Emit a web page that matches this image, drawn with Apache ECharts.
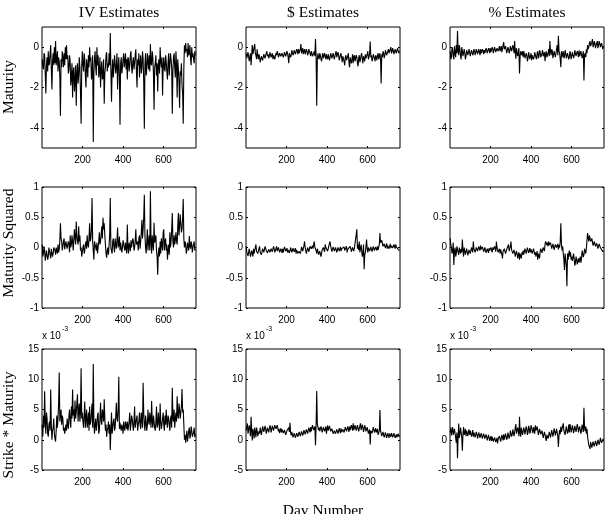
<!DOCTYPE html>
<html>
<head>
<meta charset="utf-8">
<script src="https://cdn.jsdelivr.net/npm/echarts@6/dist/echarts.min.js"></script>
<style>
html, body { margin: 0; padding: 0; background: #fff; }
#main { width: 609px; height: 514px; }
</style>
</head>
<body>
<div id="main"></div>
<script>
// one sample every 3rd day, day = 1 + 3*i
var days = [];
for (var d = 0; d < 253; d++) days.push(1 + 3 * d);

var colTitles = ['IV Estimates', '$ Estimates', '% Estimates'];
var rowTitles = ['Maturity', 'Maturity Squared', 'Strike * Maturity'];
var xTicks = [200, 400, 600];
var yTicksMat = [-4, -2, 0];
var yTicksSq = [-1, -0.5, 0, 0.5, 1];
var yTicksSM = [-5, 0, 5, 10, 15];

// IV estimates
var ivMat = [-0.6,-1.0, -1.1,-0.3, -0.4,-1.3, -2.3,-0.9, -0.5,-1.2, -0.2,-0.9, -0.8,-0.3, 0.1,-1.1, -2.1,-0.7, -0.3,-0.9,
    0.0,-0.8, 0.3,-0.9, -0.6,-0.2, -1.2,-0.5, -0.7,-1.5, -3.4,-0.6, -1.0,-0.2, -0.5,-1.0, -0.3,-0.9, 0.0,-0.6,
    0.1,-0.6, -0.4,-1.3, -1.1,-0.4, -0.7,-1.9, -1.5,-0.8, -2.5,-1.2, -1.0,-2.2, -1.6,-0.9, -2.9,-1.3, -0.8,-1.8,
    -1.4,-0.5, -1.0,-2.3, -3.8,-1.0, -0.2,-0.9, -1.2,-0.3, -0.6,-1.4, -2.0,-0.6, -0.9,-1.5, -0.4,-1.0, 0.0,-0.7,
    -0.5,-1.6, -1.3,-0.4, -4.7,-1.3, -0.6,-0.2, -1.0,-1.4, 0.0,-0.9, -0.4,-1.5, -1.2,-0.5, -2.0,-1.1, -0.7,-1.6,
    -1.5,-0.6, -2.8,-1.3, -1.0,-0.4, -0.25,-1.2, -0.8,-1.0, -0.3,-0.9, 0.7,-1.1, -2.7,-1.2, -0.6,-1.5, -1.0,-0.4,
    -0.4,-1.3, -0.9,-0.3, -2.1,-1.0, -0.5,-1.4, -3.85,-0.8, -0.5,-1.3, -1.0,-0.6, -0.3,-1.0, -0.7,-0.3, -1.1,-0.6,
    -1.6,-0.5, -0.6,-1.2, -0.9,-0.4, -0.2,-1.0, -1.3,-0.7, -0.5,-1.1, -0.8,-0.4, -0.1,-1.2, -2.0,-0.6, -0.9,-0.3,
    -1.5,-0.8, -0.4,-1.3, -1.0,-0.2, -0.6,-1.7, -4.05,-0.9, -0.3,-1.4, -1.1,-0.3, -0.7,-1.1, -0.4,-1.2, 0.15,-0.8,
    -0.9,-0.2, -0.5,-1.3, -3.1,-1.0, -0.8,-0.4, -1.4,-0.8, -2.2,-0.9, -0.6,-1.3, 0.0,-0.7, -1.0,-0.5, -2.4,-0.9,
    -0.5,-1.1, -1.2,-0.4, -0.7,-1.2, -1.6,-0.8, -0.3,-1.4, -0.9,-0.3, -0.6,-1.0, -3.3,-1.2, -0.5,-0.3, -1.0,-1.5,
    -0.2,-0.9, -2.5,-0.6, -1.1,-1.7, -3.0,-1.2, -1.4,-0.8, -1.9,-2.3, -3.8,-1.0, 0.1,-0.3, 0.2,-0.2, -0.1,-0.5,
    0.2,-0.4, -0.3,0.1, -0.6,-0.9, 0.0,-0.5, -0.3,-0.6, -0.8,-0.2, -0.4];
var ivSq = [0.05,-0.15, -0.1,0.02, -0.05,-0.22, -0.2,-0.05, -0.08,-0.2, -0.15,0.0, -0.02,-0.12, -0.18,-0.02, -0.05,-0.15, -0.1,0.0,
    0.0,-0.05, -0.12,0.0, -0.05,-0.1, 0.05,-0.08, -0.03,0.12, 0.4,0.15, 0.1,-0.05, 0.02,0.1, 0.15,-0.03, 0.0,0.1,
    0.12,-0.02, -0.05,0.1, 0.05,-0.08, 0.2,0.0, 0.05,0.2, 0.1,-0.05, -0.02,0.3, 0.15,0.05, 0.43,0.2, 0.1,0.05,
    0.35,0.1, 0.2,-0.05, 0.0,-0.15, -0.12,0.0, 0.05,-0.1, -0.05,0.05, 0.1,-0.02, 0.2,0.05, 0.0,0.15, 0.4,0.1,
    0.15,0.3, 0.82,0.1, -0.05,-0.2, 0.1,0.12, 0.0,-0.05, 0.08,-0.1, -0.08,0.1, 0.25,0.05, 0.1,0.22, 0.35,0.15,
    0.49,0.3, 0.4,0.2, 0.05,-0.1, -0.17,-0.05, 0.0,-0.12, 0.05,0.2, 0.82,0.0, -0.05,-0.1, 0.1,0.15, 0.0,-0.08,
    0.15,0.05, -0.02,0.12, 0.33,0.0, 0.05,0.18, -0.05,0.08, 0.1,-0.08, 0.0,0.12, 0.15,0.0, -0.05,0.08, 0.05,-0.1,
    0.38,0.0, -0.1,0.08, 0.05,-0.06, 0.12,0.0, -0.02,0.15, 0.1,-0.05, 0.0,0.12, 0.3,0.05, 0.02,0.1, -0.05,0.15,
    0.2,-0.02, 0.1,0.25, 0.46,0.15, 0.3,0.5, 0.87,0.2, 0.0,-0.1, 0.1,0.3, -0.05,0.1, 0.2,-0.05, 0.93,0.1,
    -0.1,0.2, 0.05,-0.05, 0.41,0.08, 0.1,0.2, -0.05,-0.15, -0.45,-0.1, 0.0,-0.15, 0.1,-0.1, 0.15,0.05, -0.05,0.25,
    0.3,-0.05, 0.1,0.15, -0.05,0.05, -0.2,-0.05, 0.05,-0.12, 0.25,0.0, 0.1,0.3, 0.57,0.1, 0.0,0.2, 0.05,0.12,
    0.25,0.1, 0.05,0.35, 0.57,0.2, 0.35,0.55, 0.4,0.25, 0.3,0.5, 0.8,0.15, 0.0,0.1, 0.05,-0.1, -0.05,0.08,
    0.05,-0.05, 0.19,0.02, -0.02,0.1, 0.05,-0.08, 0.0,0.05, 0.1,-0.05, -0.03];
var ivSM = [2.5,0.5, 4.0,2.0, 8.0,3.0, 1.0,4.5, 3.5,1.0, 0.5,2.5, 3.0,1.5, 8.3,2.5, 0.0,1.5, 2.0,3.5,
    1.0,0.2, -0.3,1.5, 4.0,2.0, 3.5,6.0, 11.1,3.0, 4.0,5.0, 2.5,4.0, 3.5,1.5, 2.0,1.0, 0.8,2.5,
    1.5,3.5, 2.5,1.8, 4.0,5.0, 3.0,2.0, 5.5,3.5, 8.3,4.0, 5.0,3.0, 6.5,3.5, 4.5,6.0, 7.5,3.0,
    5.0,6.0, 3.0,4.5, 11.8,3.5, 4.5,3.0, 2.0,4.0, 6.3,2.0, 3.5,5.0, 2.0,3.0, 4.5,1.5, 5.5,2.5,
    3.0,4.5, 6.0,2.0, 12.5,3.0, 1.0,2.5, 3.5,1.5, 2.5,4.0, 4.5,1.0, 1.5,3.5, 6.1,3.0, 2.5,5.0,
    4.5,3.0, 6.7,3.5, 1.5,2.5, 0.5,1.5, 2.0,3.0, 1.0,2.5, -1.7,1.5, 4.5,1.0, 2.0,3.0, 3.5,1.5,
    2.0,4.0, 6.1,3.5, 3.0,5.0, 10.4,1.8, 2.8,2.0, 1.5,2.5, 2.0,1.0, 3.0,2.0, 1.5,3.0, 2.5,1.8,
    3.0,1.5, 1.8,3.0, 4.5,1.5, 2.5,4.0, 3.5,2.5, 1.5,3.0, 5.5,2.0, 2.0,3.5, 4.0,1.5, 2.5,3.0,
    4.5,2.5, 1.8,4.5, 3.5,2.0, 9.4,4.5, 2.5,1.5, 4.0,3.0, 1.5,2.5, 5.0,3.0, 2.5,4.5, 3.5,2.0,
    6.4,3.0, 2.0,4.0, 3.0,2.0, 1.5,3.0, 5.5,2.0, 2.5,4.5, 3.0,1.5, 6.0,3.0, 1.8,2.5, 3.5,4.5,
    2.5,1.5, 4.0,2.5, 5.0,3.0, 2.0,4.0, 3.5,2.5, 1.5,3.5, 4.0,2.0, 8.6,3.5, 3.0,5.0, 2.0,3.5,
    4.5,3.0, 7.2,4.0, 3.5,6.0, 5.0,3.5, 4.5,5.5, 8.4,4.5, 5.0,2.5, 0.0,0.8, -0.5,0.5, 1.5,-0.3,
    0.5,1.5, 2.0,0.2, 0.8,2.2, 1.5,0.5, 0.3,1.2, 2.0,0.4, 1.0];

// $ estimates
var dolMat = [-0.3,-0.55, -0.6,-0.25, -0.2,-0.7, -0.5,-0.3, -0.9,-0.4, 0.1,-0.35, -0.2,0.0, 0.15,-0.3, -0.4,-0.6, -0.1,-0.4,
    -0.6,-0.35, -0.5,-0.75, -0.7,-0.45, -0.4,-0.65, -0.6,-0.35, -0.3,-0.55, -0.5,-0.3, -0.2,-0.45, -0.35,-0.55, -0.45,-0.25,
    -0.3,-0.5, -0.5,-0.3, -0.6,-0.4, -0.35,-0.6, -0.55,-0.3, -0.4,-0.2, -0.3,-0.5, -0.45,-0.3, -0.25,-0.45, -0.5,-0.3,
    -0.3,-0.5, -0.4,-0.25, -0.2,-0.45, -0.35,-0.2, -0.3,-0.5, -0.8,-0.3, -0.25,-0.5, -0.4,-0.15, -0.2,-0.4, -0.3,-0.15,
    -0.15,-0.35, -0.35,-0.1, -0.2,-0.35, -0.1,-0.3, -0.3,-0.1, 0.15,-0.3, -0.2,-0.05, -0.35,-0.2, -0.1,-0.35, -0.25,-0.1,
    -0.2,-0.4, -0.3,-0.1, -0.15,-0.3, -0.45,-0.2, -0.3,-0.45, -0.5,-0.3, -0.2,-0.45, 0.4,-0.5, -2.9,-0.6, -0.3,-0.5,
    -0.6,-0.3, -0.4,-0.6, -0.7,-0.45, -0.3,-0.55, -0.5,-0.3, -0.45,-0.6, -0.35,-0.5, -0.6,-0.35, -0.4,-0.65, -0.5,-0.3,
    -0.35,-0.55, -0.5,-0.3, -0.3,-0.6, -0.45,-0.3, -0.2,-0.5, -0.5,-0.25, -0.4,-0.65, -0.6,-0.4, -0.3,-0.55, -0.75,-0.45,
    -0.5,-0.7, -0.9,-0.5, -0.4,-0.65, -0.7,-0.45, -0.3,-0.75, -1.0,-0.5, -0.5,-0.8, -0.6,-0.35, -0.8,-0.5, -0.4,-0.7,
    -0.7,-0.4, -0.5,-0.8, -0.95,-0.55, -0.4,-0.75, -0.6,-0.4, -0.3,-0.6, -0.8,-0.45, -0.5,-0.7, -0.35,-0.55, -0.6,-0.35,
    -0.2,-0.6, -0.5,-0.3, 0.28,-0.5, -0.4,-0.7, -0.6,-0.35, -0.3,-0.55, -0.7,-0.4, -0.5,-0.65, -0.4,-0.3, -0.6,-0.45,
    -0.3,-0.6, -1.8,-0.35, -0.5,-0.2, -0.3,-0.55, -0.4,-0.15, -0.2,-0.4, -0.35,-0.2, -0.1,-0.3, -0.25,-0.1, 0.0,-0.3,
    -0.2,-0.05, -0.1,-0.35, -0.3,-0.1, -0.15,-0.3, -0.25,-0.05, -0.1,-0.3, -0.2];
var dolSq = [0.02,-0.08, -0.05,-0.14, -0.12,-0.02, -0.03,-0.15, -0.17,-0.05, -0.08,-0.15, -0.02,-0.1, -0.1,0.0, 0.05,-0.06, -0.03,-0.1,
    -0.08,-0.02, 0.02,-0.08, -0.05,-0.12, -0.1,-0.02, 0.0,-0.08, -0.07,0.02, 0.05,-0.05, -0.04,-0.09, -0.1,-0.03, -0.02,-0.08,
    -0.06,-0.02, 0.0,-0.07, -0.08,0.02, -0.02,-0.08, -0.05,-0.02, 0.02,-0.06, -0.06,0.0, -0.03,-0.08, -0.1,-0.02, -0.04,-0.09,
    -0.02,-0.08, -0.07,0.01, 0.0,-0.06, -0.05,-0.01, -0.08,-0.04, -0.02,-0.09, -0.05,0.0, -0.03,-0.08, -0.07,-0.01, -0.02,-0.07,
    -0.04,-0.01, -0.1,-0.04, -0.05,-0.1, -0.12,-0.06, -0.04,-0.1, -0.06,0.01, 0.0,-0.06, -0.03,0.03, 0.1,0.0, -0.05,-0.1,
    -0.08,0.0, -0.02,-0.07, -0.05,0.02, 0.03,-0.02, -0.04,0.03, -0.02,0.05, 0.1,0.0, 0.02,-0.05, -0.1,-0.02, -0.06,-0.12,
    -0.14,-0.06, -0.08,-0.15, -0.12,-0.04, -0.05,0.0, -0.02,-0.07, 0.05,0.0, -0.03,0.02, -0.06,-0.08, 0.03,0.06, 0.1,0.02,
    0.0,-0.07, -0.05,0.01, -0.02,-0.06, -0.07,0.0, -0.03,-0.08, -0.05,0.0, -0.01,-0.06, -0.04,0.01, -0.06,-0.02, 0.0,-0.05,
    -0.03,0.01, -0.05,-0.08, -0.02,0.02, -0.08,-0.03, 0.0,-0.06, -0.04,0.02, -0.02,-0.07, -0.06,0.0, -0.03,-0.06, -0.01,0.02,
    -0.04,0.02, 0.3,-0.02, 0.05,-0.04, 0.1,-0.08, -0.05,0.05, 0.08,-0.15, -0.1,0.05, -0.36,-0.12, -0.08,0.02, 0.13,-0.02,
    -0.08,0.0, 0.0,-0.06, -0.05,0.01, -0.02,-0.07, -0.04,0.02, 0.0,-0.05, -0.06,0.01, -0.02,-0.05, 0.02,-0.04, -0.02,0.05,
    0.24,0.08, 0.05,0.12, 0.1,0.02, 0.0,0.06, 0.08,-0.01, 0.03,0.07, -0.02,0.03, 0.05,-0.02, 0.02,0.06, -0.01,0.03,
    0.04,-0.01, -0.02,0.05, 0.02,-0.02, 0.05,0.01, -0.01,0.03, -0.03,-0.01, -0.05];
var dolSM = [1.5,2.2, 2.7,1.0, 0.7,2.4, 1.8,0.6, 3.8,1.5, -0.1,1.8, 1.2,0.2, 2.0,1.2, 0.4,2.0, 1.5,0.6,
    0.5,1.4, 1.0,2.0, 2.1,0.8, 1.5,2.2, 2.4,1.3, 1.0,2.3, 1.8,1.0, 1.2,2.0, 2.2,1.2, 1.5,2.4,
    2.0,1.2, 1.4,2.3, 2.5,1.5, 1.8,2.4, 2.7,1.8, 1.5,2.4, 2.2,1.4, 1.8,1.1, 1.5,1.9, 1.2,1.7,
    1.6,1.1, 1.0,1.6, 1.4,0.8, 0.9,1.5, 1.2,1.7, 2.0,1.3, 2.8,1.2, 0.7,1.3, 1.0,0.4, 0.5,1.1,
    0.8,0.3, 0.4,1.1, 1.0,0.5, 0.6,1.3, 1.2,0.6, 0.8,1.4, 1.3,0.7, 1.0,1.6, 1.5,0.9, 1.1,1.7,
    1.6,1.0, 1.3,2.0, 1.8,1.2, 2.1,1.4, 1.5,2.4, 2.3,1.6, 1.4,2.2, -0.9,2.5, 8.05,2.6, 2.1,1.6,
    2.0,1.4, 1.6,2.2, 1.8,1.2, 1.3,2.1, 2.2,1.4, 1.5,2.2, 1.0,1.8, 2.4,1.5, 1.6,2.3, 2.2,1.4,
    1.2,1.8, 1.5,1.0, 0.9,1.5, 1.6,1.0, 1.1,1.7, 1.8,1.0, 1.3,1.9, 1.5,1.1, 1.9,1.3, 1.2,1.7,
    1.7,1.2, 1.4,2.1, 2.0,1.4, 1.5,2.2, 1.8,1.3, 2.2,1.6, 1.6,2.4, 2.0,1.5, 2.7,1.6, 1.9,2.4,
    2.5,1.5, 1.7,2.4, 2.2,1.4, 1.5,2.3, 2.7,1.6, 1.8,2.5, 2.0,1.3, 1.6,2.4, 2.3,1.4, 1.5,2.1,
    1.9,1.0, 1.2,1.7, -0.8,1.5, 1.6,1.1, 1.5,2.1, 2.0,1.2, 1.5,1.9, 1.2,1.4, 1.8,0.8, 1.0,1.5,
    4.9,1.5, 1.2,0.6, 0.8,1.3, 1.0,0.4, 0.6,1.2, 0.9,0.3, 0.4,1.1, 0.7,0.3, 1.0,0.9, 0.5,1.1,
    0.8,0.4, 0.3,1.1, 0.9,0.3, 0.6,0.9, 0.4,0.6, 1.0,0.5, 0.8];

// % estimates
var pctMat = [-0.2,-0.6, -0.5,0.0, -0.1,-0.45, -0.6,0.05, -0.3,-0.5, 0.1,-0.3, 0.8,-0.2, -0.4,0.1, -0.1,-0.45, -0.6,0.0,
    -0.2,-0.45, -0.5,-0.1, -0.3,-0.6, -0.45,-0.15, -0.2,-0.4, -0.35,-0.1, -0.15,-0.45, -0.4,-0.15, -0.25,-0.4, -0.3,-0.1,
    -0.2,-0.4, -0.35,-0.1, -0.15,-0.35, -0.3,-0.1, -0.25,-0.4, -0.1,-0.3, -0.3,-0.1, -0.2,-0.35, -0.15,-0.3, -0.3,-0.05,
    -0.1,-0.3, -0.25,-0.05, -0.15,-0.3, -0.05,-0.25, -0.2,0.0, -0.1,-0.3, -0.25,0.0, -0.05,-0.25, -0.15,-0.05, 0.0,-0.2,
    -0.1,0.05, -0.2,-0.05, 0.05,-0.25, -0.1,0.1, 0.25,-0.1, -0.15,0.05, 0.0,-0.3, -0.3,0.0, -0.1,-0.3, -0.2,0.05,
    0.1,-0.2, -0.15,0.1, -0.05,-0.3, 0.3,-0.2, -0.57,-0.05, -0.1,-0.45, -0.3,-0.05, -1.3,-0.45, -0.2,-0.15, -0.4,-0.2,
    -0.5,-0.2, -0.35,-0.55, -0.6,-0.3, -0.4,-0.7, -0.55,-0.25, -0.3,-0.6, -0.45,-0.3, -0.65,-0.4, -0.35,-0.6, -0.5,-0.25,
    -0.3,-0.5, -0.6,-0.3, -0.2,-0.55, -0.45,-0.15, -0.25,-0.5, -0.5,-0.3, -0.15,-0.45, -0.4,-0.25, -0.7,-0.35, -0.2,-0.5,
    -0.5,-0.3, -0.1,-0.45, 0.3,-0.2, -0.4,-0.1, -0.2,-0.55, -0.6,-0.2, -0.15,-0.5, -0.3,-0.1, 0.1,-0.4, 0.57,-0.2,
    -0.3,-0.6, -1.0,-0.2, -0.5,-0.3, -0.2,-0.55, -0.45,-0.15, -0.3,-0.55, -0.6,-0.3, -0.25,-0.6, -0.5,-0.2, -0.35,-0.6,
    -0.55,-0.25, -0.3,-0.55, -0.4,-0.15, -0.2,-0.45, -0.5,-0.2, -0.3,-0.5, -0.15,-0.45, -0.4,-0.2, -0.25,-0.55, -0.5,-0.2,
    -1.65,-0.4, -0.3,-0.5, -0.1,-0.3, 0.1,-0.1, 0.0,0.2, 0.3,0.05, 0.15,0.25, 0.4,0.0, 0.1,0.3, 0.2,-0.05,
    0.0,0.2, 0.3,-0.05, 0.1,0.3, 0.2,0.0, -0.05,0.2, 0.15,-0.1, 0.05];
var pctSq = [0.15,0.05, 0.0,-0.1, -0.05,0.08, -0.29,-0.05, 0.0,-0.15, -0.1,0.02, 0.05,-0.08, -0.12,0.0, -0.05,-0.1, -0.02,-0.08,
    0.13,-0.05, -0.15,0.0, -0.05,-0.12, -0.1,-0.02, -0.07,-0.13, -0.12,-0.04, -0.05,-0.1, -0.08,0.0, -0.03,-0.08, 0.1,-0.02,
    -0.02,-0.08, -0.06,0.0, 0.02,-0.06, -0.04,0.02, -0.01,-0.05, 0.03,-0.03, -0.06,0.01, -0.02,-0.07, -0.08,0.0, -0.04,-0.09,
    -0.1,-0.02, -0.05,-0.09, -0.01,-0.05, -0.07,0.0, -0.03,-0.08, 0.0,-0.04, -0.05,0.02, -0.02,-0.07, 0.1,0.0, -0.03,-0.08,
    -0.06,-0.02, -0.1,-0.03, -0.05,-0.12, -0.18,-0.06, -0.08,-0.02, -0.04,-0.1, -0.1,-0.03, 0.0,-0.06, 0.05,-0.06, -0.02,0.02,
    0.1,-0.04, -0.06,-0.1, -0.12,-0.04, -0.08,-0.15, -0.14,-0.06, -0.1,-0.18, -0.16,-0.08, -0.2,-0.1, -0.12,-0.18, -0.08,-0.12,
    -0.05,-0.12, -0.1,-0.02, -0.03,-0.1, -0.07,0.0, -0.02,-0.09, -0.05,-0.01, -0.08,-0.03, -0.04,-0.1, -0.1,-0.02, -0.06,-0.12,
    -0.08,-0.15, -0.12,-0.06, -0.2,-0.1, -0.14,-0.18, -0.06,-0.02, -0.03,-0.09, -0.08,0.0, -0.02,-0.06, 0.05,0.1, 0.13,0.04,
    0.08,0.02, 0.1,0.04, 0.03,0.08, 0.07,-0.02, 0.0,0.06, 0.05,-0.04, -0.02,0.05, 0.08,0.0, 0.02,0.06, -0.03,0.04,
    0.0,0.1, 0.4,0.05, -0.05,0.02, -0.1,-0.2, -0.37,-0.1, -0.2,-0.3, -0.64,-0.1, -0.2,-0.1, -0.05,-0.15, -0.08,-0.2,
    -0.15,-0.22, -0.2,-0.1, -0.12,-0.3, -0.25,-0.15, -0.2,-0.28, -0.31,-0.18, -0.25,-0.2, -0.15,-0.25, -0.18,-0.05, -0.1,-0.16,
    -0.12,-0.02, -0.05,-0.1, -0.02,0.12, 0.24,0.15, 0.1,0.2, 0.18,0.1, 0.08,0.15, 0.12,0.03, 0.05,0.1, 0.09,0.02,
    0.02,0.07, 0.06,-0.02, 0.0,0.06, 0.04,0.0, -0.02,0.02, -0.03,-0.07, -0.05];
var pctSM = [1.2,2.0, 0.7,1.5, 2.1,0.8, 0.5,1.8, 1.5,0.3, -0.5,1.2, -3.05,0.5, 2.7,0.3, 1.0,2.0, 1.8,0.4,
    -1.8,1.0, 2.1,0.8, 1.2,1.8, 0.6,1.5, 1.6,0.6, 1.3,1.7, 0.8,1.5, 1.4,0.5, 1.0,1.6, 0.5,1.2,
    1.2,0.4, 0.7,1.3, 0.9,0.2, 0.4,1.2, 1.0,0.3, 0.6,1.1, 0.8,0.2, 0.3,1.0, 0.9,0.2, 0.4,0.9,
    0.6,-0.1, 0.1,0.8, 0.5,-0.2, 0.2,0.6, -0.2,0.5, 0.3,-0.3, -0.4,0.4, 0.1,-0.4, -0.3,0.3, -0.6,0.2,
    0.0,0.6, 0.5,-0.3, -0.2,0.8, 0.4,-0.1, 0.9,0.0, 0.2,1.0, 0.7,0.0, 0.4,1.2, 1.0,0.2, 0.6,1.5,
    1.3,0.5, 0.9,1.7, 1.8,0.6, 1.2,2.0, 2.6,1.0, 0.8,2.0, 1.5,0.6, 3.8,1.2, 0.5,2.0, 1.4,0.8,
    0.7,2.0, 1.6,0.9, 1.0,2.2, 1.8,0.8, 1.2,2.3, 1.9,1.0, 1.4,2.4, 2.2,1.5, 1.1,2.1, 1.8,1.0,
    2.4,1.5, 1.3,2.2, 1.9,0.8, 1.0,1.8, 1.6,0.9, 0.7,1.5, 1.2,0.3, 0.4,1.3, 0.9,0.2, -0.2,0.8,
    1.0,0.2, 0.3,1.3, 1.1,0.4, 0.5,1.6, 1.5,0.5, 0.8,1.9, 1.3,0.7, 0.6,1.8, 1.7,0.6, -1.2,0.8,
    1.6,0.9, 2.2,1.3, 1.2,2.3, 2.7,1.5, 1.8,0.8, 1.0,2.2, 2.0,1.0, 1.5,2.5, 1.2,2.6, 2.0,1.2,
    1.5,2.4, 2.2,1.1, 1.4,2.3, 2.5,1.3, 1.6,2.6, 2.1,1.2, 1.8,2.2, 2.4,1.0, 1.5,2.5, 2.0,1.3,
    5.3,2.0, 1.4,2.2, 1.0,1.8, 0.5,0.2, -0.9,-1.2, -1.5,-0.4, -0.7,-1.3, -1.2,-0.3, -0.5,-1.1, -0.8,-0.2,
    -0.3,-1.0, -0.6,0.0, -0.1,-0.8, -0.4,0.3, 0.0,-0.5, -0.3,-0.2, 0.2];

var panels = [
    [ivMat, dolMat, pctMat],
    [ivSq, dolSq, pctSq],
    [ivSM, dolSM, pctSM]
];
var yRange = [[-5, 1], [-1, 1], [-5, 15]];
var yTicks = [yTicksMat, yTicksSq, yTicksSM];

var colLeft = [42, 246, 450];
var rowTop = [27, 187, 349];
var plotW = 154, plotH = 121;

var sans = 'Liberation Sans, Arial, sans-serif';
var serif = 'Liberation Serif, Times New Roman, serif';

var grids = [], xAxes = [], yAxes = [], series = [], graphics = [];

function tickAxis(extra) {
    var a = {
        type: 'value', splitLine: { show: false },
        axisLine: { show: false, onZero: false },
        axisTick: { inside: true, length: 2, lineStyle: { color: '#000' } },
        axisLabel: { show: false }
    };
    for (var k in extra) a[k] = extra[k];
    return a;
}

for (var r = 0; r < 3; r++) {
    for (var c = 0; c < 3; c++) {
        var g = grids.length;
        grids.push({
            left: colLeft[c], top: rowTop[r], width: plotW, height: plotH,
            show: true, borderColor: '#000', borderWidth: 1, backgroundColor: '#fff'
        });
        // bottom/left axes carry labels, top/right only mirror the ticks
        var xb = tickAxis({ gridIndex: g, min: 0, max: 760, position: 'bottom' });
        xb.axisTick.customValues = xTicks;
        xb.axisLabel = { customValues: xTicks, margin: 7, fontSize: 10, color: '#000', fontFamily: sans };
        var xt = tickAxis({ gridIndex: g, min: 0, max: 760, position: 'top' });
        xt.axisTick.customValues = xTicks;
        var yl = tickAxis({ gridIndex: g, min: yRange[r][0], max: yRange[r][1], position: 'left' });
        yl.axisTick.customValues = yTicks[r];
        yl.axisLabel = { customValues: yTicks[r], margin: 3, fontSize: 10, color: '#000', fontFamily: sans };
        var yr = tickAxis({ gridIndex: g, min: yRange[r][0], max: yRange[r][1], position: 'right' });
        yr.axisTick.customValues = yTicks[r];
        xAxes.push(xb, xt);
        yAxes.push(yl, yr);

        var vals = panels[r][c];
        var pts = [];
        for (var i = 0; i < vals.length; i++) pts.push([days[i], vals[i]]);
        series.push({
            type: 'line', xAxisIndex: 2 * g, yAxisIndex: 2 * g, data: pts,
            showSymbol: false, animation: false,
            lineStyle: { color: '#000', width: 1.1 }
        });
        if (r == 2) {
            graphics.push({ type: 'text', left: colLeft[c], top: 331,
                style: { text: 'x 10', fontSize: 10, fontFamily: sans, fill: '#000' } });
            graphics.push({ type: 'text', left: colLeft[c] + 20, top: 326,
                style: { text: '-3', fontSize: 7, fontFamily: sans, fill: '#000' } });
        }
    }
}

for (var c = 0; c < 3; c++) {
    graphics.push({ type: 'text', x: colLeft[c] + plotW / 2, y: 13,
        style: { text: colTitles[c], fontSize: 15.5, fontFamily: serif, fill: '#000', align: 'center', verticalAlign: 'middle' } });
}
var rowMid = [87, 243, 425];
for (var r = 0; r < 3; r++) {
    graphics.push({ type: 'text', x: 9, y: rowMid[r], rotation: Math.PI / 2,
        style: { text: rowTitles[r], fontSize: 15.5, fontFamily: serif, fill: '#000', align: 'center', verticalAlign: 'middle' } });
}
graphics.push({ type: 'text', x: 323, y: 511,
    style: { text: 'Day Number', fontSize: 15.5, fontFamily: serif, fill: '#000', align: 'center', verticalAlign: 'middle' } });

var myChart = echarts.init(document.getElementById('main'));
var option = {
    backgroundColor: '#fff',
    animation: false,
    grid: grids,
    xAxis: xAxes,
    yAxis: yAxes,
    series: series,
    graphic: graphics
};
myChart.setOption(option);
</script>
</body>
</html>
